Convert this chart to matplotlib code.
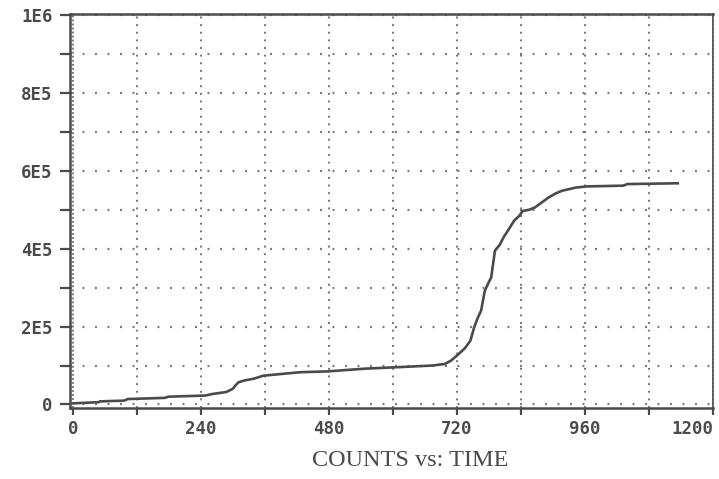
import matplotlib
matplotlib.use("Agg")
import matplotlib.pyplot as plt
import numpy as np

plt.rcParams['lines.scale_dashes'] = False

# Data: cumulative counts vs time
time = [0, 48, 50, 96, 102, 172, 178, 248, 261, 287, 299, 305, 310, 322, 338,
        357, 395, 427, 478, 497, 547, 612, 673, 697, 709, 720, 735, 745, 752,
        758, 765, 772, 778, 784, 791, 800, 807, 817, 827, 837, 843, 855, 866,
        880, 892, 905, 917, 930, 943, 963, 1000, 1032, 1039, 1134]
counts = [3e3, 6e3, 8e3, 1.0e4, 1.4e4, 1.7e4, 2.0e4, 2.3e4, 2.7e4, 3.2e4, 4.0e4,
          5.0e4, 5.7e4, 6.2e4, 6.6e4, 7.4e4, 7.9e4, 8.3e4, 8.5e4, 8.7e4, 9.2e4,
          9.6e4, 1.0e5, 1.04e5, 1.13e5, 1.26e5, 1.45e5, 1.64e5, 1.98e5, 2.2e5,
          2.41e5, 2.92e5, 3.1e5, 3.26e5, 3.95e5, 4.1e5, 4.29e5, 4.5e5, 4.72e5,
          4.85e5, 4.97e5, 5.0e5, 5.06e5, 5.2e5, 5.32e5, 5.42e5, 5.49e5, 5.53e5,
          5.57e5, 5.6e5, 5.61e5, 5.62e5, 5.66e5, 5.68e5]

x_ticks = [0, 120, 240, 360, 480, 600, 720, 840, 960, 1080, 1200]
x_labels = ["0", "", "240", "", "480", "", "720", "", "960", "", "1200"]
y_ticks = [0, 1e5, 2e5, 3e5, 4e5, 5e5, 6e5, 7e5, 8e5, 9e5, 1e6]
y_labels = ["0", "", "2E5", "", "4E5", "", "6E5", "", "8E5", "", "1E6"]
title = "COUNTS vs: TIME"

ink = "#4a4a4a"
dot = "#7a7a7a"

fig = plt.figure(figsize=(7.19, 4.79), dpi=100)
ax = fig.add_axes([70/719, 1-408/479, (713-70)/719, (408-13.5)/479])
ax.set_xlim(-6, 1200)
ax.set_ylim(-9000, 1.004e6)

# grid lines
for xv in x_ticks:
    if xv in (0, 1200):
        ax.axvline(xv, color=dot, lw=1.4, dashes=(1.3, 1.6), zorder=1)
    else:
        ax.axvline(xv, color=dot, lw=1.5, dashes=(1.4, 4.1), zorder=1)
for yv in y_ticks:
    ax.axhline(yv, color=dot, lw=1.6, dashes=(1.4, 7.6), zorder=1)

ax.plot(time, counts, color=ink, lw=1.9, zorder=3)

ax.set_xticks(x_ticks)
ax.set_xticklabels(x_labels)
ax.set_yticks(y_ticks)
ax.set_yticklabels(y_labels)

for lab in ax.get_xticklabels() + ax.get_yticklabels():
    lab.set_fontfamily("DejaVu Sans Mono")
    lab.set_fontweight("bold")
    lab.set_fontsize(12.5)
    lab.set_color(ink)
ax.get_xticklabels()[-1].set_horizontalalignment('right')

ax.tick_params(axis='y', direction='out', length=7.5, width=1.6, color=ink, pad=5)
ax.tick_params(axis='x', direction='out', length=5, width=1.6, color=ink, pad=4)

for side in ['left', 'bottom', 'top']:
    ax.spines[side].set_linewidth(1.8)
    ax.spines[side].set_color(ink)
ax.spines['right'].set_linewidth(1.2)
ax.spines['right'].set_color(ink)

fig.text(410/719, 1-461/479, title, family="Liberation Serif", size=17.5,
         color=ink, ha='center', va='center')

fig.savefig("out.png", dpi=100, facecolor='white')
